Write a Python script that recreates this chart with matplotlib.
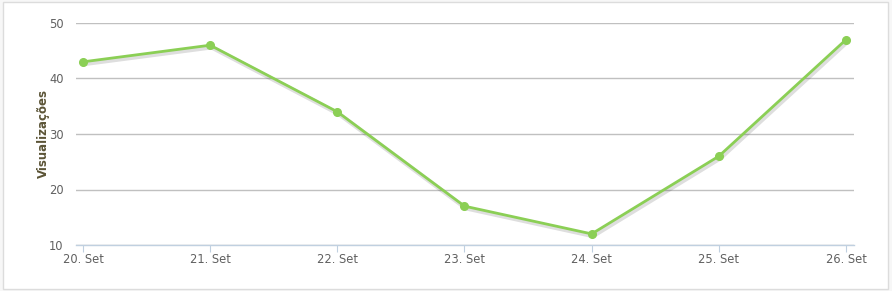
import matplotlib
matplotlib.use('Agg')
from matplotlib import pyplot as plt
from matplotlib.patches import Rectangle
import matplotlib.patheffects as pe

days = ['20. Set', '21. Set', '22. Set', '23. Set', '24. Set', '25. Set', '26. Set']
views = [43, 46, 34, 17, 12, 26, 47]
y_ticks = [10, 20, 30, 40, 50]

W, H = 892, 291
fig = plt.figure(figsize=(W / 100, H / 100), dpi=100)
fig.patch.set_facecolor('#f7f7f7')

# card background, kept behind the axes
card = Rectangle((3 / W, 2 / H), 885 / W, 1 - 4 / H, transform=fig.transFigure,
                 facecolor='white', edgecolor='#dcdcdc', linewidth=1, zorder=-5)
fig.add_artist(card)

ax = fig.add_axes([76 / W, 1 - 245 / H, 778 / W, 222 / H])
ax.set_facecolor('none')

x = list(range(len(days)))
green = '#8bcf55'
# line with a soft drop shadow, markers drawn on top without it
ax.plot(x, views, color=green, linewidth=2.0, clip_on=False, zorder=3,
        path_effects=[pe.SimpleLineShadow(offset=(1, -1.5), shadow_color='black', alpha=0.13, linewidth=3.2),
                      pe.Normal()])
ax.plot(x, views, linestyle='none', marker='o', markersize=5.5, color=green,
        clip_on=False, zorder=4)

ax.set_xlim(-0.055, 6.063)
ax.set_ylim(10, 50)
ax.set_yticks(y_ticks)
ax.set_xticks(x)
ax.set_xticklabels(days)

ax.grid(axis='y', color='#c0c0c0', linewidth=1)
ax.set_axisbelow(True)
for s in ['top', 'right', 'left']:
    ax.spines[s].set_visible(False)
ax.spines['bottom'].set_color('#c0d0e0')
ax.spines['bottom'].set_linewidth(1)

ax.tick_params(axis='y', length=0, pad=9, labelsize=8.3, labelcolor='#606060')
ax.tick_params(axis='x', length=5, color='#c0d0e0', pad=1, labelsize=8.3, labelcolor='#606060')

ax.set_ylabel('Visualizações', fontsize=8.5, fontweight='bold', color='#5b5436', labelpad=-1)

fig.savefig('out.png', dpi=100, facecolor=fig.get_facecolor())
